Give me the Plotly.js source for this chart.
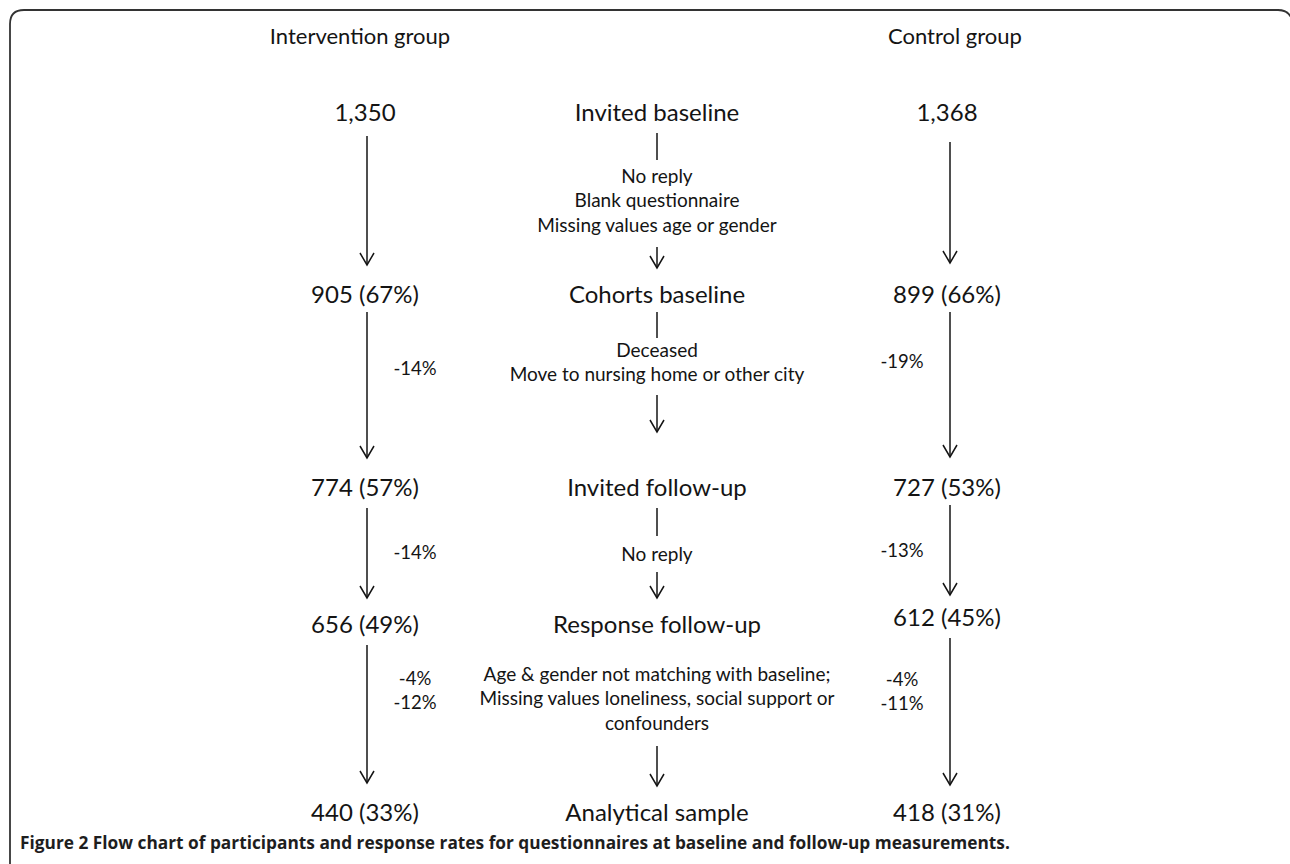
<!DOCTYPE html>
<html><head><meta charset="utf-8">
<script src="https://cdn.plot.ly/plotly-3.0.1.min.js"></script>
<style>html,body{margin:0;padding:0;background:#fff;overflow:hidden}#chart{width:1290px;height:864px}</style>
</head><body><div id="chart"></div>
<script>
// ---- data ----
const groups = ["Intervention group", "Control group"];
const steps = ["Invited baseline", "Cohorts baseline", "Invited follow-up", "Response follow-up", "Analytical sample"];
const interventionN = [1350, 905, 774, 656, 440];
const interventionPct = [null, 67, 57, 49, 33];
const controlN = [1368, 899, 727, 612, 418];
const controlPct = [null, 66, 53, 45, 31];
const exclusionReasons = [
  ["No reply", "Blank questionnaire", "Missing values age or gender"],
  ["Deceased", "Move to nursing home or other city"],
  ["No reply"],
  ["Age & gender not matching with baseline;", "Missing values loneliness, social support or", "confounders"]
];
const interventionLoss = [[], ["-14%"], ["-14%"], ["-4%", "-12%"]];
const controlLoss = [[], ["-19%"], ["-13%"], ["-4%", "-11%"]];
const captionBold = "Figure 2";
const captionText = "Flow chart of participants and response rates for questionnaires at baseline and follow-up measurements.";

// ---- layout constants (positions in pixels) ----
const X_LEFT = 367, X_CENTER = 657, X_RIGHT = 950;
const HEAD_Y = 38, HEAD_X = [360, 955];
const ROW_LEFT = [115, 297, 490, 627, 815];
const ROW_CENTER = [115, 297, 490, 627, 815];
const ROW_RIGHT = [115, 297, 490, 620, 815];
const ARROW_LEFT = [[136, 265], [312, 458], [508, 598], [645, 783]];
const ARROW_RIGHT = [[142, 263], [312, 457], [505, 595], [638, 785]];
const STUB_CENTER = [[133, 160], [312, 338], [508, 536], null];
const ARROW_CENTER = [[247, 268], [395, 432], [572, 598], [746, 786]];
const REASON_Y0 = [178, 352, 556, 676];
const REASON_DY = 24.5;
const LOSS_X = [415, 902];
const LOSS_Y0L = [null, 370, 554, 680];
const LOSS_Y0R = [null, 363, 552, 681];
const LOSS_DY = 24;

const FONT = "Lato, 'Open Sans', sans-serif";
const INK = "#141414";

function fmt(n, p) {
  return n.toLocaleString("en-US") + (p == null ? "" : " (" + p + "%)");
}

const traces = [];
function textTrace(xs, ys, texts, size) {
  traces.push({type: "scatter", mode: "text", x: xs, y: ys, text: texts,
    textposition: "middle center", textfont: {family: FONT, size: size, color: INK},
    hoverinfo: "skip", showlegend: false, cliponaxis: false});
}

textTrace(HEAD_X, [HEAD_Y, HEAD_Y], groups, 22);
textTrace(interventionN.map(() => X_LEFT - 2), ROW_LEFT, interventionN.map((n, i) => fmt(n, interventionPct[i])), 24);
textTrace(steps.map(() => X_CENTER), ROW_CENTER, steps, 24);
textTrace(controlN.map(() => X_RIGHT - 3), ROW_RIGHT, controlN.map((n, i) => fmt(n, controlPct[i])), 24);

const rx = [], ry = [], rt = [];
exclusionReasons.forEach((lines, g) => lines.forEach((t, k) => {
  rx.push(X_CENTER); ry.push(REASON_Y0[g] + k * REASON_DY); rt.push(t);
}));
textTrace(rx, ry, rt, 19);

const lx = [], ly = [], lt = [];
interventionLoss.forEach((lines, g) => lines.forEach((t, k) => {
  lx.push(LOSS_X[0]); ly.push(LOSS_Y0L[g] + k * LOSS_DY); lt.push(t);
}));
controlLoss.forEach((lines, g) => lines.forEach((t, k) => {
  lx.push(LOSS_X[1]); ly.push(LOSS_Y0R[g] + k * LOSS_DY); lt.push(t);
}));
textTrace(lx, ly, lt, 18.5);

// arrows
const ax = [], ay = [];
function arrow(x, seg, head) {
  ax.push(x, x, null); ay.push(seg[0], seg[1], null);
  if (head) {
    ax.push(x - 7, x, x + 7, null);
    ay.push(seg[1] - 12, seg[1], seg[1] - 12, null);
  }
}
ARROW_LEFT.forEach(s => arrow(X_LEFT, s, true));
ARROW_RIGHT.forEach(s => arrow(X_RIGHT, s, true));
STUB_CENTER.forEach(s => { if (s) arrow(X_CENTER, s, false); });
ARROW_CENTER.forEach(s => arrow(X_CENTER, s, true));
traces.push({type: "scatter", mode: "lines", x: ax, y: ay, connectgaps: false,
  line: {color: INK, width: 1.5}, hoverinfo: "skip", showlegend: false, cliponaxis: false});

const layout = {
  width: 1290, height: 864,
  margin: {l: 0, r: 0, t: 0, b: 0},
  paper_bgcolor: "#ffffff", plot_bgcolor: "#ffffff",
  xaxis: {range: [0, 1290], visible: false, fixedrange: true},
  yaxis: {range: [864, 0], visible: false, fixedrange: true},
  showlegend: false,
  hovermode: false,
  shapes: [{
    type: "path", xref: "x", yref: "y",
    path: "M 10,866 L 10,24 Q 10,10 24,10 L 1278,10 Q 1291,10 1293,24 L 1293,866",
    line: {color: "#333333", width: 1.8}
  }],
  annotations: [{
    xref: "x", yref: "y", x: 18, y: 842, xanchor: "left", yanchor: "middle",
    showarrow: false, align: "left",
    text: "<b>" + captionBold + " " + captionText + "</b>",
    font: {family: "'Open Sans', 'Noto Sans', sans-serif", size: 17.3, color: "#1e1e1e"}
  }]
};

Plotly.newPlot("chart", traces, layout, {staticPlot: true, displayModeBar: false});
</script>
</body></html>
